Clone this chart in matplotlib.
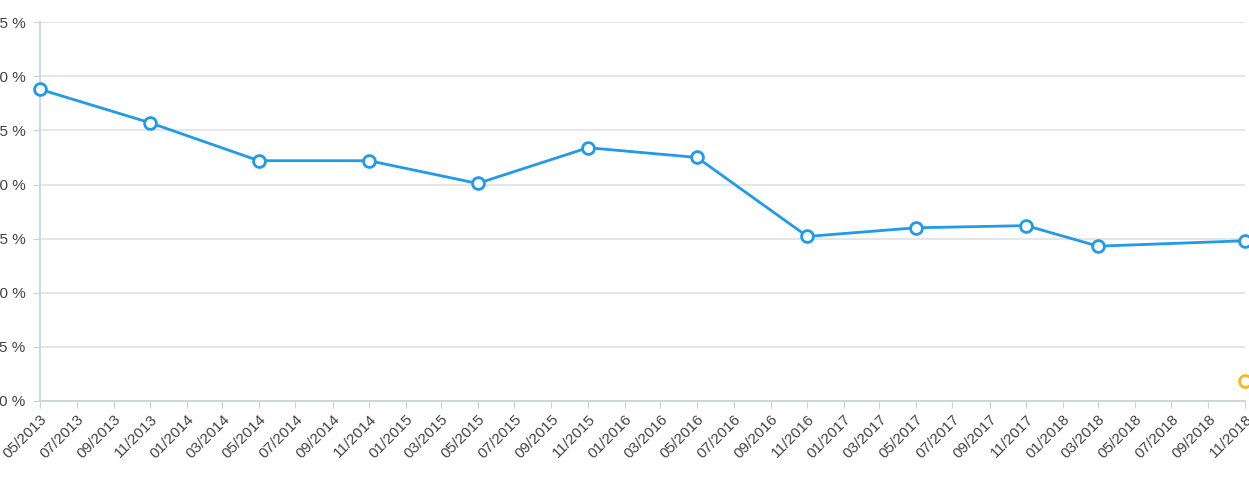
import matplotlib
matplotlib.use('Agg')
import matplotlib.pyplot as plt
import matplotlib.dates as mdates
import pandas as pd

plt.rcParams['font.family'] = ['Liberation Sans', 'DejaVu Sans']

# data
dates = ['2013-05', '2013-11', '2014-05', '2014-11', '2015-05', '2015-11',
         '2016-05', '2016-11', '2017-05', '2017-11', '2018-03', '2018-11']
values = [28.8, 25.7, 22.2, 22.2, 20.1, 23.4, 22.5, 15.2, 16.0, 16.2, 14.3, 14.8]
extra_dates = ['2018-11']
extra_values = [1.8]
y_ticks = [0, 5, 10, 15, 20, 25, 30, 35]

x = pd.to_datetime(dates)
x_extra = pd.to_datetime(extra_dates)

fig = plt.figure(figsize=(12.49, 4.83), dpi=100)
ax = fig.add_axes([0.032, 0.170, 0.9648, 0.784])

ax.plot(x, values, color='#1f9be9', linewidth=2, marker='o', markersize=8.5,
        markerfacecolor='white', markeredgecolor='#1f9be9', markeredgewidth=2,
        clip_on=False, zorder=3)
ax.plot(x_extra, extra_values, linestyle='none', marker='o', markersize=8.5,
        markerfacecolor='white', markeredgecolor='#f6b81c', markeredgewidth=2,
        clip_on=False, zorder=3)

ax.set_xlim(pd.Timestamp('2013-05-01'), pd.Timestamp('2018-11-01'))
ax.set_ylim(0, 35)
ax.set_yticks(y_ticks)
ax.set_yticklabels([f'{t} %' for t in y_ticks])

ticks = pd.date_range('2013-05-01', '2018-11-01', freq='2MS')
ax.set_xticks(ticks)
ax.xaxis.set_major_formatter(mdates.DateFormatter('%m/%Y'))
plt.setp(ax.get_xticklabels(), rotation=45, ha='right', rotation_mode='anchor')

ax.grid(axis='y', color='#e2e2e2', linewidth=1.2)
ax.set_axisbelow(True)
for side in ['top', 'right']:
    ax.spines[side].set_visible(False)
for side in ['left', 'bottom']:
    ax.spines[side].set_color('#c5d3da')
    ax.spines[side].set_linewidth(1.2)
ax.tick_params(axis='x', length=5, color='#c5d3da', labelsize=11, labelcolor='#444444', pad=3)
ax.tick_params(axis='y', length=5, color='#c5d3da', labelsize=11, labelcolor='#444444', pad=5.5)

fig.savefig('out.png', dpi=100)
